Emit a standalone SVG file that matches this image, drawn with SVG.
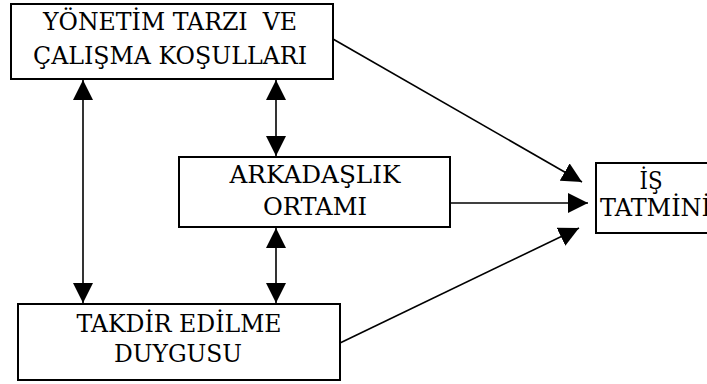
<svg xmlns="http://www.w3.org/2000/svg" width="707" height="384" viewBox="0 0 707 384">
<style>
.box{fill:#fff;stroke:#000;stroke-width:2}
.lbl{font-family:"DejaVu Serif",serif;font-size:24px;fill:#000;text-anchor:middle}
.con{stroke:#000;stroke-width:1.6;fill:none}
</style>
<defs>
<marker id="ah" viewBox="0 0 20 20" refX="20" refY="10" markerWidth="20" markerHeight="20" markerUnits="userSpaceOnUse" orient="auto-start-reverse">
<path d="M0,0 L20,10 L0,20 Z" fill="#000"/>
</marker>
</defs>
<g id="connectors">
<line class="con" x1="83" y1="80" x2="83" y2="303" marker-start="url(#ah)" marker-end="url(#ah)"/>
<line class="con" x1="276" y1="80" x2="276" y2="156" marker-start="url(#ah)" marker-end="url(#ah)"/>
<line class="con" x1="276" y1="228" x2="276" y2="303" marker-start="url(#ah)" marker-end="url(#ah)"/>
<line class="con" x1="333" y1="39" x2="582" y2="182" marker-end="url(#ah)"/>
<line class="con" x1="450" y1="203" x2="588" y2="203" marker-end="url(#ah)"/>
<line class="con" x1="340" y1="343" x2="579" y2="228" marker-end="url(#ah)"/>
</g>
<g id="node-yonetim">
<rect class="box" x="11" y="4" width="322" height="75"/>
<text class="lbl" x="170" y="30" xml:space="preserve" textLength="254" lengthAdjust="spacingAndGlyphs">YÖNETİM TARZI  VE</text>
<text class="lbl" x="170" y="64" textLength="274" lengthAdjust="spacingAndGlyphs">ÇALIŞMA KOŞULLARI</text>
</g>
<g id="node-arkadaslik">
<rect class="box" x="179" y="157" width="271" height="70"/>
<text class="lbl" x="315" y="183" textLength="171" lengthAdjust="spacingAndGlyphs">ARKADAŞLIK</text>
<text class="lbl" x="315" y="215" textLength="104" lengthAdjust="spacingAndGlyphs">ORTAMI</text>
</g>
<g id="node-takdir">
<rect class="box" x="18" y="304" width="322" height="76"/>
<text class="lbl" x="179" y="332" textLength="205" lengthAdjust="spacingAndGlyphs">TAKDİR EDİLME</text>
<text class="lbl" x="178" y="362" textLength="128" lengthAdjust="spacingAndGlyphs">DUYGUSU</text>
</g>
<g id="node-is-tatmini">
<rect class="box" x="596" y="163" width="120" height="70"/>
<text class="lbl" x="651" y="189" textLength="23" lengthAdjust="spacingAndGlyphs">İŞ</text>
<text class="lbl" x="655.5" y="216" textLength="111" lengthAdjust="spacingAndGlyphs">TATMİNİ</text>
</g>
</svg>
